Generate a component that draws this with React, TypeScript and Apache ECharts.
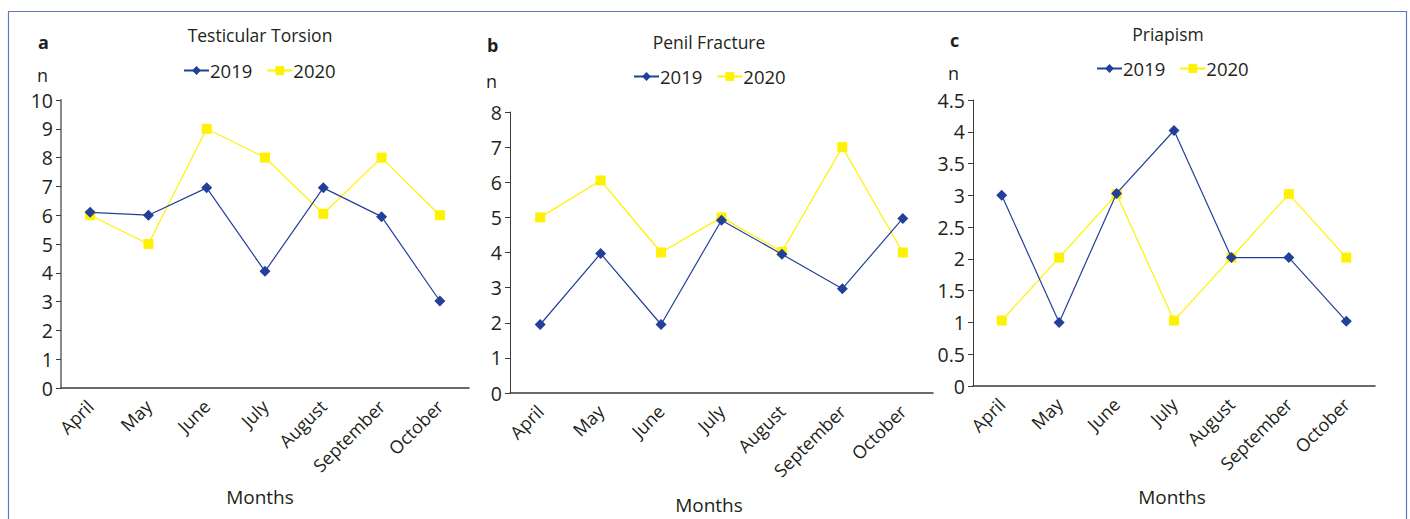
import React, { useEffect, useRef } from "react";
import * as echarts from "echarts";

const months = ["April", "May", "June", "July", "August", "September", "October"];
const torsion2019 = [6.1, 6, 6.95, 4.05, 6.95, 5.95, 3.02];
const torsion2020 = [6, 5, 9, 8, 6.05, 8, 6];
const fracture2019 = [1.95, 3.97, 1.95, 4.92, 3.95, 2.97, 4.97];
const fracture2020 = [5, 6.05, 4, 5, 4.02, 7, 4];
const priapism2019 = [3, 1, 3.03, 4.02, 2.02, 2.02, 1.02];
const priapism2020 = [1.03, 2.02, 3.02, 1.03, 2.02, 3.02, 2.02];

const panelTitles = ["Testicular Torsion", "Penil Fracture", "Priapism"];
const panelLetters = ["a", "b", "c"];
const yMax = [10, 8, 4.5];
const yInterval = [1, 1, 0.5];

const BLUE = "#22409a";
const YELLOW = "#fff200";
const TEXT = "#231f20";
const FONT = "Open Sans";

export default function App() {
  const ref = useRef<HTMLDivElement>(null);
  useEffect(() => {
    if (!ref.current) return;
    const chart = echarts.init(ref.current, undefined, { renderer: "svg" });
    const grids = [
      { left: 61, top: 100, width: 408, height: 288 },
      { left: 510, top: 112, width: 423, height: 281 },
      { left: 973, top: 100, width: 402, height: 286 },
    ];
    const legendPos = [
      { left: 183, top: 61 },
      { left: 633, top: 67 },
      { left: 1096, top: 59 },
    ];
    const titlePos = [
      { x: 260, y: 35 },
      { x: 709, y: 42 },
      { x: 1168, y: 34 },
    ];
    const letterPos = [
      { x: 38, y: 42 },
      { x: 487, y: 45 },
      { x: 950, y: 40 },
    ];
    const nPos = [
      { x: 37, y: 75 },
      { x: 486, y: 81 },
      { x: 948, y: 73 },
    ];
    const monthsPos = [
      { x: 260, y: 497 },
      { x: 709, y: 505 },
      { x: 1172, y: 497 },
    ];
    const data = [
      [torsion2019, torsion2020],
      [fracture2019, fracture2020],
      [priapism2019, priapism2020],
    ];
    const series: any[] = [];
    data.forEach((pair, i) => {
      series.push({
        name: "2019",
        type: "line",
        xAxisIndex: i,
        yAxisIndex: i,
        data: pair[0],
        symbol: "diamond",
        symbolSize: 11,
        lineStyle: { color: BLUE, width: 1.2 },
        itemStyle: { color: BLUE },
        z: 3,
      });
      series.push({
        name: "2020",
        type: "line",
        xAxisIndex: i,
        yAxisIndex: i,
        data: pair[1],
        symbol: "rect",
        symbolSize: 10,
        lineStyle: { color: YELLOW, width: 1.2 },
        itemStyle: { color: YELLOW },
        z: 2,
      });
    });
    const graphics: any[] = [
      {
        type: "rect",
        shape: { x: 8.5, y: 11.5, width: 1398, height: 520 },
        style: { fill: "none", stroke: "#6478bd", lineWidth: 1.2 },
        silent: true,
      },
    ];
    for (let i = 0; i < 3; i++) {
      graphics.push({
        type: "text",
        x: titlePos[i].x,
        y: titlePos[i].y,
        style: { text: panelTitles[i], fill: TEXT, font: `17.5px ${FONT}`, textAlign: "center", textVerticalAlign: "middle" },
      });
      graphics.push({
        type: "text",
        x: letterPos[i].x,
        y: letterPos[i].y,
        style: { text: panelLetters[i], fill: TEXT, font: `bold 18px ${FONT}`, textAlign: "left", textVerticalAlign: "middle" },
      });
      graphics.push({
        type: "text",
        x: nPos[i].x,
        y: nPos[i].y,
        style: { text: "n", fill: TEXT, font: `18px ${FONT}`, textAlign: "left", textVerticalAlign: "middle" },
      });
      graphics.push({
        type: "text",
        x: monthsPos[i].x,
        y: monthsPos[i].y,
        style: { text: "Months", fill: TEXT, font: `19px ${FONT}`, textAlign: "center", textVerticalAlign: "middle" },
      });
    }
    chart.setOption({
      animation: false,
      backgroundColor: "#ffffff",
      grid: grids,
      legend: legendPos.map((p, i) => ({
        left: p.left,
        top: p.top,
        padding: 0,
        data: ["2019", "2020"],
        seriesIndex: [2 * i, 2 * i + 1],
        itemWidth: 25,
        itemHeight: 11,
        itemGap: 14,
        textStyle: { color: TEXT, fontSize: 18.5, fontFamily: FONT, padding: [0, 0, 0, -4] },
        selectedMode: false,
      })),
      xAxis: [0, 1, 2].map((i) => ({
        type: "category",
        gridIndex: i,
        data: months,
        boundaryGap: true,
        axisLine: { lineStyle: { color: "#3a3a3a", width: 1.5 } },
        axisTick: { show: false },
        axisLabel: { rotate: 45, color: TEXT, fontSize: 18, fontFamily: FONT, margin: 15, interval: 0 },
        splitLine: { show: false },
      })),
      yAxis: [0, 1, 2].map((i) => ({
        type: "value",
        gridIndex: i,
        min: 0,
        max: yMax[i],
        interval: yInterval[i],
        axisLine: { show: true, lineStyle: { color: i === 0 ? "#8a8a8a" : "#3a3a3a", width: i === 0 ? 2 : 1 } },
        axisTick: { show: true, length: 5, lineStyle: { color: "#3a3a3a" } },
        axisLabel: { color: TEXT, fontSize: 19.5, fontFamily: FONT, margin: 8 },
        splitLine: { show: false },
      })),
      series,
      graphic: graphics,
    });
    return () => chart.dispose();
  }, []);
  return (
    <div
      ref={ref}
      style={{ position: "fixed", left: 0, top: 0, width: 1410, height: 519, background: "#fff" }}
    />
  );
}
